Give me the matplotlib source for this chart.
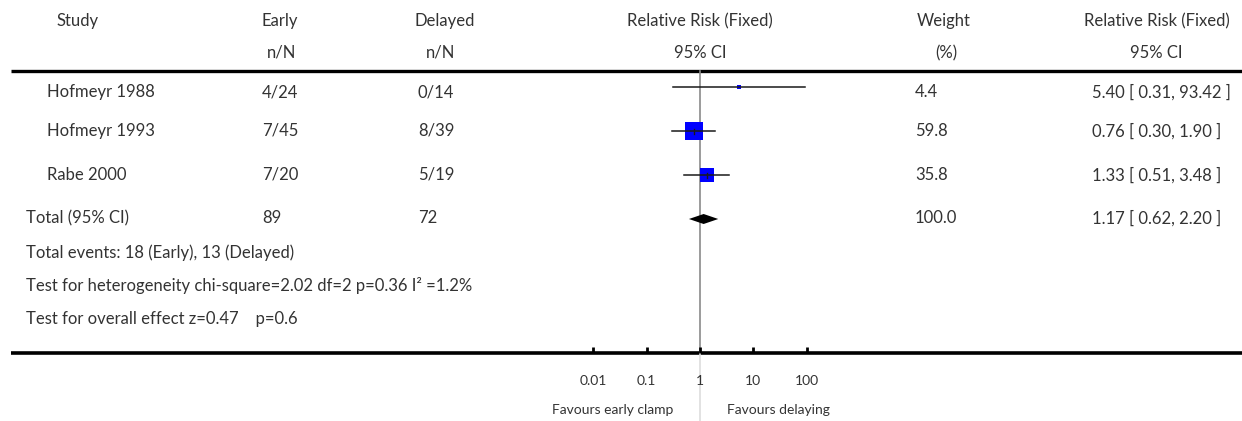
import numpy as np
import matplotlib
matplotlib.use("Agg")
import matplotlib.pyplot as plt

# ---------------- data ----------------
studies = ["Hofmeyr 1988", "Hofmeyr 1993", "Rabe 2000"]
early_n = [4, 7, 7]
early_N = [24, 45, 20]
delayed_n = [0, 8, 5]
delayed_N = [14, 39, 19]
rr = [5.40, 0.76, 1.33]
rr_lo = [0.31, 0.30, 0.51]
rr_hi = [93.42, 1.90, 3.48]
weights = [4.4, 59.8, 35.8]

total_label = "Total (95% CI)"
total_early = 89
total_delayed = 72
total_rr = 1.17
total_lo = 0.62
total_hi = 2.20
total_weight = 100.0

footnotes = [
    "Total events: 18 (Early), 13 (Delayed)",
    "Test for heterogeneity chi-square=2.02 df=2 p=0.36 I\u00b2 =1.2%",
    "Test for overall effect z=0.47    p=0.6",
]
tick_vals = [0.01, 0.1, 1, 10, 100]
tick_labels = ["0.01", "0.1", "1", "10", "100"]
favours_left = "Favours early clamp"
favours_right = "Favours delaying"

# ---------------- layout (pixels) ----------------
W, H = 1242, 421
FONT = "Lato"
TC = "#333333"
FS = 12
FS2 = 10

fig = plt.figure(figsize=(W / 100, H / 100), dpi=100)
ax = fig.add_axes([0, 0, 1, 1])
ax.set_xlim(0, W)
ax.set_ylim(H, 0)
ax.axis("off")

# forest axes: x=1 at pixel 700, 53.3 px per decade, span 1e-3..1e3
px_dec = 53.3
x0 = 700 - 3 * px_dec
x1 = 700 + 3 * px_dec
fax = fig.add_axes([x0 / W, 0, (x1 - x0) / W, 1])
fax.set_xscale("log")
fax.set_xlim(1e-3, 1e3)
fax.set_ylim(H, 0)
fax.axis("off")
fax.patch.set_alpha(0)


def t(x, y, s, ha="left", size=FS, **kw):
    ax.text(x, y, s, ha=ha, va="center", fontsize=size, color=TC,
            family=FONT, fontweight="normal", **kw)


# column positions
C_STUDY, C_EARLY, C_DEL, C_W, C_CI = 47, 262, 418, 915, 1092

# headers
t(78, 21, "Study", ha="center")
t(280, 21, "Early", ha="center")
t(282, 53, "n/N", ha="center")
t(445, 21, "Delayed", ha="center")
t(441, 53, "n/N", ha="center")
t(700, 21, "Relative Risk (Fixed)", ha="center")
t(700, 53, "95% CI", ha="center")
t(944, 21, "Weight", ha="center")
t(946, 53, "(%)", ha="center")
t(1157, 21, "Relative Risk (Fixed)", ha="center")
t(1156, 53, "95% CI", ha="center")

# horizontal rules
ax.plot([11, W], [71, 71], color="black", lw=2.4, solid_capstyle="butt")
ax.plot([11, W], [353, 353], color="black", lw=2.6, solid_capstyle="butt")

# rows
text_y = [92, 131, 175]
mark_y = [87, 131, 175]
for i, name in enumerate(studies):
    y = text_y[i]
    t(C_STUDY, y, name)
    t(C_EARLY, y, f"{early_n[i]}/{early_N[i]}")
    t(C_DEL, y, f"{delayed_n[i]}/{delayed_N[i]}")
    t(C_W, y, f"{weights[i]:.1f}")
    t(C_CI, y, f"{rr[i]:.2f} [ {rr_lo[i]:.2f}, {rr_hi[i]:.2f} ]")

# total row
ty = 218
t(26, ty, total_label)
t(C_EARLY, ty, f"{total_early}")
t(C_DEL, ty, f"{total_delayed}")
t(C_W, ty, f"{total_weight:.1f}")
t(C_CI, ty, f"{total_rr:.2f} [ {total_lo:.2f}, {total_hi:.2f} ]")

for k, s in enumerate(footnotes):
    t(26, [253, 286, 319][k], s)

# forest: vertical line of no effect
fax.plot([1, 1], [71, 353], color="#8a8a8a", lw=1.2, zorder=1)
fax.plot([1, 1], [353, H], color="#dddddd", lw=1.2, zorder=1)

# CIs and boxes
for i in range(len(studies)):
    y = mark_y[i]
    side_px = 2.2 * np.sqrt(weights[i])
    fax.scatter([rr[i]], [y], marker="s", s=(side_px * 0.72) ** 2,
                color="#0000ff", linewidths=0, zorder=3)
    fax.plot([rr_lo[i], rr_hi[i]], [y, y], color="#1a1a1a", lw=1.1, zorder=4)
    if weights[i] > 10:
        fax.plot([rr[i], rr[i]], [y - 2.5, y + 2.5], color="#1a1a1a", lw=1.0, zorder=4)

# total diamond
dy = 219
fax.fill([total_lo, total_rr, total_hi, total_rr], [dy, dy - 5, dy, dy + 5],
         color="black", lw=0, zorder=3)

# bottom axis ticks
for v, lab in zip(tick_vals, tick_labels):
    fax.plot([v, v], [346.5, 353], color="black", lw=2.0, zorder=2,
             solid_capstyle="butt")
    fax.text(v, 381, lab, ha="center", va="center", fontsize=FS2, color=TC,
             family=FONT, fontweight="normal")

fax.text(0.31, 410, favours_left, ha="right", va="center", fontsize=FS2,
         color=TC, family=FONT, fontweight="normal")
fax.text(3.2, 410, favours_right, ha="left", va="center", fontsize=FS2,
         color=TC, family=FONT, fontweight="normal")

fig.savefig("out.png", dpi=100)
